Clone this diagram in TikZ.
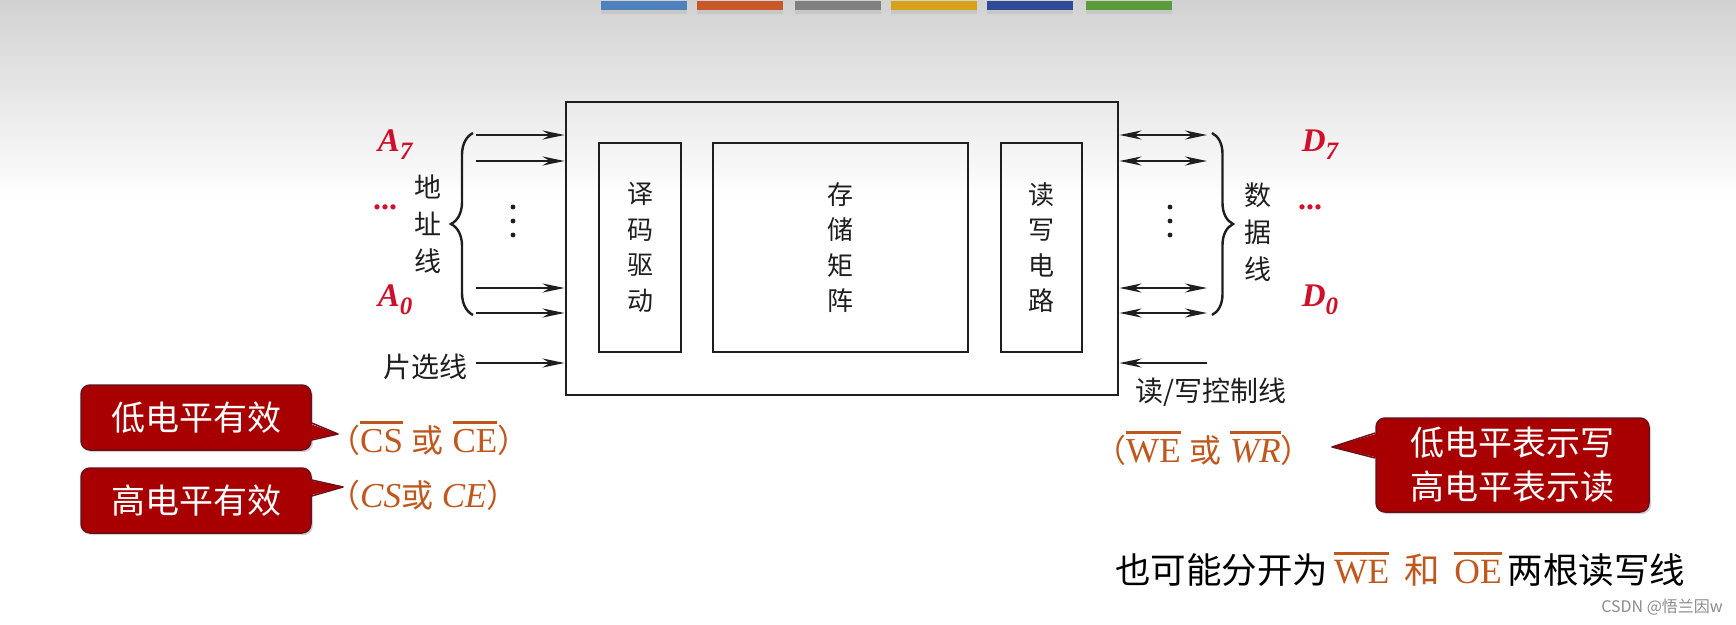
\documentclass[tikz,border=0pt]{standalone}
\usepackage{fontspec}
\setmainfont{Liberation Serif}
\newfontfamily\cjk{Noto Sans CJK SC}
\usetikzlibrary{arrows.meta,decorations.pathreplacing,shadows,calc}

\definecolor{bgtop}{HTML}{D2D2D2}
\definecolor{inkgray}{HTML}{1E1E1E}
\definecolor{pinred}{HTML}{D0102A}
\definecolor{sigorange}{HTML}{C0581E}
\definecolor{tipfill}{HTML}{A80000}
\definecolor{tipedge}{HTML}{6E0E1A}
\definecolor{barA}{HTML}{4F81BD}
\definecolor{barB}{HTML}{C8572A}
\definecolor{barC}{HTML}{808080}
\definecolor{barD}{HTML}{D6A21A}
\definecolor{barE}{HTML}{2F4B97}
\definecolor{barF}{HTML}{5B9B3B}

\newcommand{\fsz}[2]{\fontsize{#1}{#2}\selectfont}
\newcommand{\ovl}[1]{\leavevmode\vbox{\hrule height 2.6pt \kern 5pt \hbox{#1}}}
\newcommand{\zh}[1]{{\cjk\fsz{32}{32}#1}}
\newcommand{\pinsub}[1]{\raisebox{-8pt}{\fsz{25}{25}#1}}
\newcommand{\topbar}[2]{\fill[black!22] (#1,5) rectangle ++(86,9);
	\fill[#2] (#1,1) rectangle ++(86,9)}
\newcommand{\vdotsat}[1]{\fill[inkgray] (#1,207) circle (2.4) (#1,221) circle (2.4) (#1,235) circle (2.4)}
\newcommand{\tipright}[4]{\fill[tipfill] ($(#1.east |- 0,#2)+(-4,0)$) -- (#4) -- ($(#1.east |- 0,#3)+(-4,0)$) -- cycle;
	\draw[tipedge, line width=1.5pt, line join=round] (#1.east |- 0,#2) -- (#4) -- (#1.east |- 0,#3)}
\newcommand{\tipleft}[4]{\fill[tipfill] ($(#1.west |- 0,#2)+(4,0)$) -- (#4) -- ($(#1.west |- 0,#3)+(4,0)$) -- cycle;
	\draw[tipedge, line width=1.5pt, line join=round] (#1.west |- 0,#2) -- (#4) -- (#1.west |- 0,#3)}

\begin{document}
\begin{tikzpicture}[x=1pt, y=-1pt,
	>={Stealth[length=22pt,width=9pt]},
	box/.style={draw=inkgray, line width=2.7pt, inner sep=0pt},
	lbl/.style={text=inkgray, font=\cjk\fsz{27}{37}, align=center, inner sep=0pt},
	pin/.style={text=pinred, font=\bfseries\itshape\fsz{33}{33}, inner sep=0pt},
	sig/.style={text=sigorange, font=\fsz{35}{35}, inner sep=0pt, anchor=base west},
	bus/.style={draw=inkgray, line width=2.6pt, ->},
	bibus/.style={draw=inkgray, line width=2.6pt, <->},
	brace/.style={draw=inkgray, line width=2.4pt, decorate},
	bubble/.style={rounded corners=9pt, fill=tipfill, draw=tipedge, line width=1.5pt,
		text=white, font=\cjk\fsz{34}{44}, align=center, inner sep=0pt,
		drop shadow={opacity=0.35, shadow xshift=2pt, shadow yshift=-2pt}}]
\useasboundingbox (0,0) rectangle (1736,624);
%Background
	\fill[white] (0,0) rectangle (1736,624);
	\shade[top color=bgtop, bottom color=white] (0,0) rectangle (1736,200);
	\topbar{601}{barA};
	\topbar{697}{barB};
	\topbar{795}{barC};
	\topbar{891}{barD};
	\topbar{987}{barE};
	\topbar{1086}{barF};
%The memory chip
	\node[box, line width=2.9pt, minimum width=552, minimum height=293] (mem) at (842,248.5) {};
	\node[box, lbl, font=\cjk\fsz{26}{35.5}, minimum width=82, minimum height=209] (dec) at (640,247.5) {译\\码\\驱\\动};
	\node[box, lbl, font=\cjk\fsz{26}{35.5}, minimum width=255, minimum height=209] (cells) at (840.5,247.5) {存\\储\\矩\\阵};
	\node[box, lbl, font=\cjk\fsz{26}{35.5}, minimum width=81, minimum height=209] (rwc) at (1041.5,247.5) {读\\写\\电\\路};
%Address lines
	\coordinate (a7) at (476,135);
	\coordinate (a6) at (476,161);
	\coordinate (a1) at (476,288);
	\coordinate (a0) at (476,313);
	\coordinate (cs) at (476,363);
	\draw[bus] (a7) -- (a7 -| mem.west);
	\draw[bus] (a6) -- (a6 -| mem.west);
	\draw[bus] (a1) -- (a1 -| mem.west);
	\draw[bus] (a0) -- (a0 -| mem.west);
	\draw[bus] (cs) -- (cs -| mem.west);
	\vdotsat{513};
	\draw[brace, decoration={brace, amplitude=22pt}] (473,315) -- (473,133);
	\node[lbl] (addr) at (428,224) {地\\址\\线};
	\node[lbl, font=\cjk\fsz{28}{28}] (cslbl) at (425,367) {片选线};
	\node[pin] (pa7) at (395,145) {A\pinsub{7}};
	\node[pin, font=\bfseries\fsz{32}{32}] (pad) at (385,207) {...};
	\node[pin] (pa0) at (395,300) {A\pinsub{0}};
%Data lines
	\coordinate (d7) at (1207,135);
	\coordinate (d6) at (1207,161);
	\coordinate (d1) at (1207,288);
	\coordinate (d0) at (1207,313);
	\coordinate (wr) at (1207,363);
	\draw[bibus] (d7 -| mem.east) -- (d7);
	\draw[bibus] (d6 -| mem.east) -- (d6);
	\draw[bibus] (d1 -| mem.east) -- (d1);
	\draw[bibus] (d0 -| mem.east) -- (d0);
	\draw[bus] (wr) -- (wr -| mem.east);
	\vdotsat{1170};
	\draw[brace, decoration={brace, amplitude=21pt}] (1212,133) -- (1212,315);
	\node[lbl] (data) at (1258,232) {数\\据\\线};
	\node[lbl, font=\cjk\fsz{28}{28}] (rwlbl) at (1211,392) {读/写控制线};
	\node[pin] (pd7) at (1320,145) {D\pinsub{7}};
	\node[pin, font=\bfseries\fsz{32}{32}] (pdd) at (1310,207) {...};
	\node[pin] (pd0) at (1320,300) {D\pinsub{0}};
%Signal names
	\node[sig] (csneg) at (328,452) {\zh{（}\ovl{CS} \zh{或} \ovl{CE}\zh{）}};
	\node[sig] (cspos) at (328,507) {\zh{（}\textit{CS}\zh{或} \textit{CE}\zh{）}};
	\node[sig] (wrneg) at (1094,462) {\zh{（}\ovl{WE} \zh{或} \ovl{\itshape WR}\zh{）}};
%Callouts
	\node[bubble, minimum width=230, minimum height=65] (low) at (196,417.5) {低电平有效};
	\tipright{low}{423}{440}{338,434};
	\node[bubble, minimum width=230, minimum height=65] (high) at (196,500.5) {高电平有效};
	\tipright{high}{480}{496}{343,487};
	\node[bubble, minimum width=273, minimum height=94] (rwnote) at (1512.5,465) {低电平表示写\\高电平表示读};
	\tipleft{rwnote}{433}{458}{1332,447};
%Note at the bottom
	\node[sig, text=black, font=\fsz{35.5}{36}] (note) at (1115,583) {{\cjk 也可能分开为}\,{\color{sigorange}\ovl{WE} \,{\cjk 和}\, \ovl{OE}}\,{\cjk 两根读写线}};
	\node[text=black!45, font=\cjk\fsz{16}{16}, inner sep=0pt] (mark) at (1662,607) {CSDN @悟兰因w};
\end{tikzpicture}
\end{document}
